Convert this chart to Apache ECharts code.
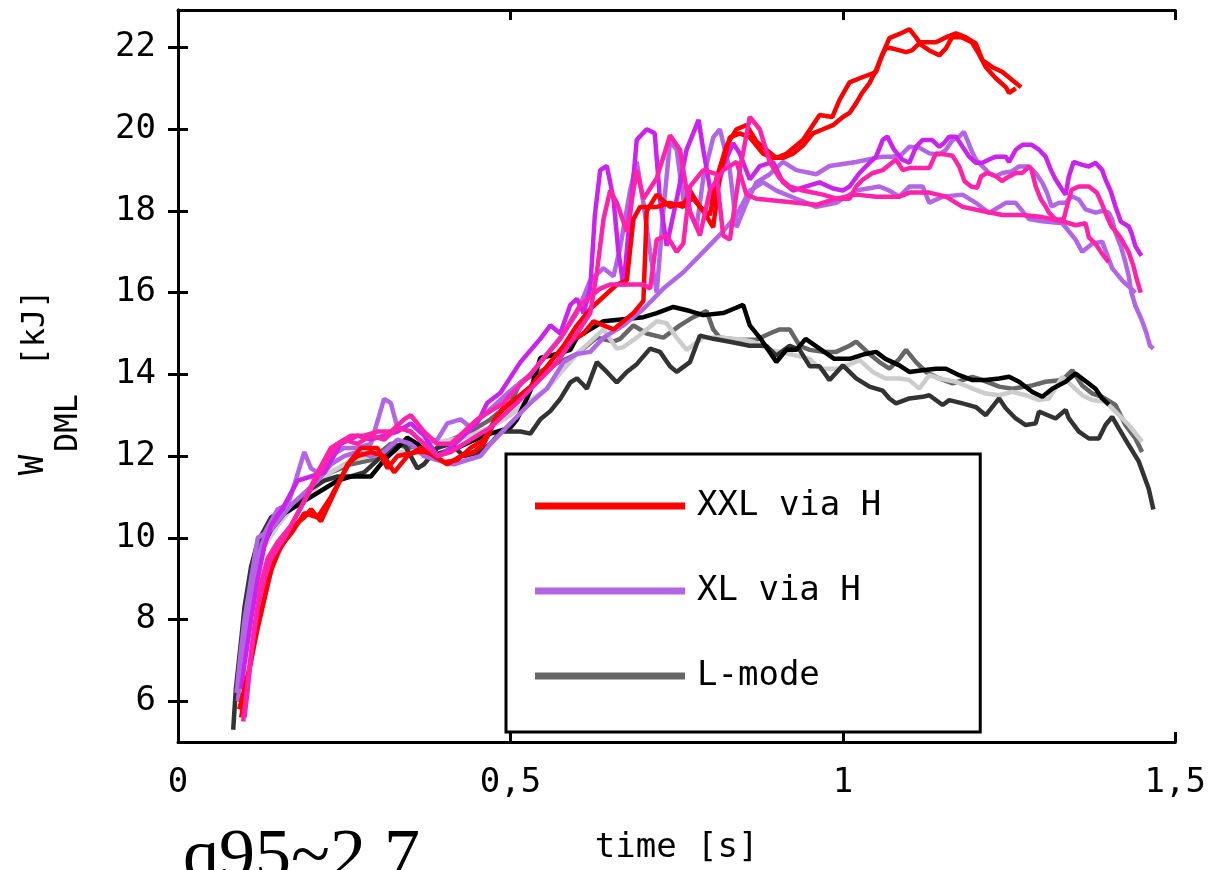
<!DOCTYPE html>
<html>
<head>
<meta charset="utf-8">
<script src="https://cdn.jsdelivr.net/npm/echarts@6/dist/echarts.min.js"></script>
<style>html,body{margin:0;padding:0;background:#fff}#c{width:1209px;height:870px}</style>
</head>
<body>
<div id="c"></div>
<script>
// ---------- data ----------
const xTickLabels = ['0', '0,5', '1', '1,5'];
const yTicks = [6, 8, 10, 12, 14, 16, 18, 20, 22];

const legendNames = ['XXL via H', 'XL via H', 'L-mode'];

// L-mode shots
const lModeMid = [[0.09,6.5],[0.1,7.8],[0.11,8.8],[0.12,9.6],[0.13,10.0],[0.15,10.4],[0.17,10.8],[0.2,11.2],[0.23,11.6],[0.26,11.8],[0.29,11.9],[0.32,12.3],[0.35,12.2],[0.38,12.1],[0.41,12.4],[0.44,12.6],[0.47,12.9],[0.5,13.3],[0.515,13.8],[0.53,13.95],[0.56,14.2],[0.6,14.5],[0.63,14.9],[0.655,14.8],[0.665,14.87],[0.685,15.2],[0.705,15.0],[0.73,14.9],[0.755,15.2],[0.775,15.4],[0.795,15.55],[0.805,15.1],[0.815,14.9],[0.84,14.85],[0.87,14.85],[0.89,15.0],[0.905,15.1],[0.92,15.1],[0.935,14.7],[0.95,14.6],[0.97,14.55],[0.99,14.55],[1.01,14.7],[1.02,14.8],[1.04,14.5],[1.055,14.3],[1.07,14.14],[1.085,14.38],[1.095,14.6],[1.11,14.3],[1.125,14.06],[1.145,13.9],[1.165,13.78],[1.195,13.94],[1.21,13.86],[1.235,13.7],[1.255,13.65],[1.285,13.73],[1.305,13.82],[1.33,13.86],[1.345,14.1],[1.36,13.73],[1.375,13.53],[1.39,13.45],[1.41,13.25],[1.425,12.76],[1.44,12.43],[1.45,12.1]];
const lModeLight = [[0.09,6.2],[0.1,7.5],[0.11,8.5],[0.12,9.3],[0.13,9.8],[0.15,10.3],[0.17,10.7],[0.2,11.1],[0.23,11.6],[0.26,11.9],[0.29,12.0],[0.32,12.1],[0.35,12.1],[0.38,12.3],[0.41,12.4],[0.44,12.5],[0.47,12.7],[0.5,13.0],[0.515,13.2],[0.555,13.65],[0.6,14.5],[0.64,15.1],[0.66,14.63],[0.67,14.67],[0.69,14.9],[0.72,15.3],[0.735,15.25],[0.75,14.9],[0.765,14.6],[0.79,14.9],[0.815,14.9],[0.85,14.85],[0.865,14.8],[0.89,14.6],[0.92,14.5],[0.95,14.38],[0.965,14.14],[0.995,14.14],[1.025,14.35],[1.045,14.06],[1.064,13.9],[1.085,13.9],[1.1,13.86],[1.115,13.65],[1.13,13.98],[1.145,13.9],[1.17,13.82],[1.195,13.65],[1.215,13.53],[1.235,13.49],[1.255,13.57],[1.275,13.49],[1.295,13.37],[1.31,13.41],[1.33,13.94],[1.36,13.49],[1.375,13.37],[1.395,13.33],[1.41,13.09],[1.43,12.76],[1.45,12.35]];
const lModeDark = [[0.083,5.3],[0.087,6.3],[0.095,7.5],[0.1,8.3],[0.11,9.3],[0.12,9.9],[0.13,10.2],[0.14,10.5],[0.16,10.7],[0.18,10.9],[0.2,11.2],[0.22,11.4],[0.24,11.5],[0.26,11.5],[0.28,11.6],[0.3,11.9],[0.32,12.2],[0.34,12.3],[0.36,11.7],[0.37,11.8],[0.39,12.2],[0.41,12.3],[0.43,12.0],[0.455,12.1],[0.47,12.3],[0.485,12.6],[0.515,12.6],[0.53,12.55],[0.545,12.9],[0.56,13.1],[0.575,13.4],[0.59,13.8],[0.6,13.9],[0.61,13.74],[0.615,13.65],[0.63,14.3],[0.645,14.06],[0.66,13.8],[0.675,14.06],[0.69,14.25],[0.71,14.63],[0.725,14.55],[0.74,14.2],[0.75,14.06],[0.77,14.3],[0.785,14.95],[0.805,14.87],[0.83,14.8],[0.86,14.7],[0.885,14.7],[0.9,14.46],[0.92,14.7],[0.935,14.6],[0.95,14.2],[0.965,14.2],[0.98,13.86],[1.0,14.22],[1.02,13.9],[1.04,13.7],[1.06,13.6],[1.07,13.41],[1.08,13.29],[1.1,13.41],[1.12,13.45],[1.13,13.49],[1.15,13.25],[1.16,13.37],[1.18,13.29],[1.2,13.2],[1.215,13.0],[1.235,13.41],[1.245,13.17],[1.26,12.92],[1.275,12.76],[1.29,12.8],[1.295,13.09],[1.32,12.92],[1.335,13.13],[1.34,12.92],[1.355,12.6],[1.37,12.43],[1.385,12.43],[1.395,12.76],[1.405,12.96],[1.415,12.68],[1.43,12.27],[1.445,11.87],[1.46,11.2],[1.467,10.69]];
const lModeBlack = [[0.09,6.0],[0.1,7.6],[0.11,8.6],[0.12,9.4],[0.13,9.9],[0.14,10.2],[0.16,10.6],[0.18,10.8],[0.2,11.0],[0.22,11.2],[0.24,11.4],[0.26,11.5],[0.29,11.5],[0.31,11.9],[0.33,12.2],[0.345,12.45],[0.36,12.3],[0.38,12.0],[0.4,12.1],[0.42,12.2],[0.44,12.35],[0.46,12.5],[0.48,12.6],[0.5,12.7],[0.51,12.9],[0.53,13.6],[0.545,14.4],[0.57,14.5],[0.59,14.6],[0.6,14.9],[0.62,15.1],[0.64,15.3],[0.7,15.4],[0.72,15.5],[0.745,15.65],[0.77,15.55],[0.79,15.45],[0.82,15.5],[0.835,15.6],[0.85,15.7],[0.86,15.2],[0.875,14.9],[0.9,14.3],[0.915,14.6],[0.93,14.6],[0.944,14.87],[0.965,14.63],[0.987,14.38],[1.01,14.38],[1.034,14.5],[1.05,14.55],[1.064,14.38],[1.085,14.22],[1.1,14.06],[1.12,14.1],[1.14,14.14],[1.155,14.14],[1.175,13.98],[1.195,13.86],[1.215,13.86],[1.235,13.9],[1.25,13.94],[1.265,13.82],[1.285,13.57],[1.3,13.45],[1.315,13.65],[1.335,13.82],[1.35,14.02],[1.36,13.9],[1.38,13.65],[1.39,13.41],[1.4,13.26]];

// XL via H shots
const xlLavenderB = [[0.09,6.0],[0.1,7.5],[0.11,8.6],[0.12,9.5],[0.13,10.0],[0.15,10.4],[0.17,10.8],[0.19,11.1],[0.21,11.4],[0.23,11.8],[0.25,12.0],[0.27,12.1],[0.29,12.0],[0.31,12.1],[0.33,12.4],[0.35,12.3],[0.37,12.0],[0.39,11.9],[0.415,11.8],[0.435,11.9],[0.455,12.0],[0.47,12.3],[0.5,12.8],[0.53,13.3],[0.555,13.65],[0.58,14.3],[0.6,14.5],[0.62,14.55],[0.64,14.9],[0.67,15.2],[0.7,15.6],[0.73,16.1],[0.76,16.5],[0.79,17.0],[0.82,17.5],[0.84,17.9],[0.86,18.5],[0.88,18.7],[0.9,18.5],[0.93,18.3],[0.96,18.1],[0.99,18.2],[1.02,18.5],[1.055,18.6],[1.07,18.5],[1.085,18.35],[1.1,18.6],[1.12,18.6],[1.13,18.2],[1.15,18.35],[1.18,18.4],[1.2,18.2],[1.22,17.95],[1.245,18.2],[1.26,18.2],[1.28,17.8],[1.3,17.75],[1.33,17.7],[1.35,17.3],[1.36,17.0],[1.375,17.2],[1.39,17.25],[1.405,16.6],[1.42,16.3],[1.44,16.0]];
const xlLavenderA = [[0.088,6.2],[0.093,7.0],[0.1,8.0],[0.11,9.0],[0.12,10.0],[0.13,10.1],[0.15,10.7],[0.165,10.8],[0.175,11.3],[0.19,12.1],[0.2,11.7],[0.21,11.6],[0.23,12.0],[0.25,12.2],[0.27,12.2],[0.29,12.3],[0.31,13.4],[0.32,13.3],[0.33,12.7],[0.35,12.6],[0.37,12.3],[0.39,12.4],[0.405,12.8],[0.425,12.9],[0.44,12.7],[0.46,13.0],[0.48,13.3],[0.5,13.6],[0.53,14.0],[0.55,14.4],[0.58,15.0],[0.6,15.5],[0.62,16.3],[0.64,16.6],[0.655,16.4],[0.665,17.1],[0.68,18.5],[0.69,19.2],[0.7,18.2],[0.71,17.0],[0.72,16.0],[0.73,18.0],[0.74,19.7],[0.75,19.5],[0.76,18.3],[0.78,17.6],[0.79,18.8],[0.805,19.8],[0.815,20.0],[0.83,19.0],[0.84,17.6],[0.855,18.2],[0.87,18.7],[0.89,18.9],[0.91,19.2],[0.93,19.0],[0.96,18.9],[0.98,19.1],[1.0,19.15],[1.02,19.2],[1.05,19.3],[1.06,19.33],[1.075,19.33],[1.088,19.38],[1.1,19.57],[1.115,19.55],[1.13,19.41],[1.145,19.38],[1.155,19.5],[1.165,19.74],[1.175,19.82],[1.182,19.94],[1.187,19.74],[1.193,19.5],[1.2,19.26],[1.21,19.09],[1.22,18.93],[1.23,18.85],[1.24,18.93],[1.254,18.97],[1.265,19.09],[1.28,19.09],[1.29,18.93],[1.3,18.69],[1.307,18.45],[1.314,18.11],[1.325,18.2],[1.335,18.2],[1.344,18.36],[1.355,18.28],[1.365,18.04],[1.38,17.96],[1.39,18.0],[1.4,17.96],[1.405,17.79],[1.41,17.47],[1.418,17.14],[1.425,16.74],[1.43,16.41],[1.434,16.0],[1.44,15.68],[1.449,15.35],[1.456,15.04],[1.462,14.7],[1.467,14.63]];
const xlPurple = [[0.095,6.3],[0.1,6.9],[0.11,8.0],[0.12,9.0],[0.13,9.8],[0.14,10.3],[0.16,10.8],[0.18,11.4],[0.2,11.5],[0.22,11.6],[0.245,12.3],[0.27,12.5],[0.29,12.4],[0.31,12.5],[0.33,12.6],[0.35,12.8],[0.37,12.5],[0.39,12.0],[0.41,12.2],[0.43,12.5],[0.45,12.8],[0.465,13.3],[0.485,13.55],[0.515,14.3],[0.545,14.87],[0.56,15.2],[0.575,15.0],[0.59,15.7],[0.6,15.85],[0.61,15.5],[0.62,16.1],[0.627,17.9],[0.635,19.0],[0.645,19.1],[0.655,18.3],[0.662,17.06],[0.67,16.15],[0.68,17.9],[0.69,19.74],[0.705,20.0],[0.717,19.9],[0.725,18.28],[0.735,17.15],[0.75,18.28],[0.765,19.5],[0.783,20.23],[0.79,19.5],[0.805,18.1],[0.82,19.1],[0.835,19.66],[0.845,19.4],[0.86,18.77],[0.875,19.1],[0.895,19.2],[0.91,18.7],[0.925,18.5],[0.945,18.6],[0.965,18.7],[0.985,18.55],[1.0,18.5],[1.01,18.6],[1.025,18.93],[1.04,19.18],[1.05,19.33],[1.06,19.74],[1.067,19.82],[1.077,19.5],[1.089,19.26],[1.1,19.18],[1.11,19.57],[1.12,19.74],[1.134,19.74],[1.145,19.57],[1.152,19.66],[1.16,19.82],[1.17,19.82],[1.18,19.57],[1.19,19.33],[1.2,19.18],[1.21,19.18],[1.22,19.26],[1.23,19.33],[1.245,19.33],[1.25,19.2],[1.26,19.5],[1.27,19.62],[1.284,19.62],[1.295,19.5],[1.305,19.33],[1.313,19.0],[1.32,18.77],[1.33,18.52],[1.335,18.4],[1.34,18.85],[1.347,19.2],[1.36,19.13],[1.37,19.09],[1.38,19.18],[1.39,19.0],[1.395,18.77],[1.403,18.48],[1.41,18.11],[1.418,17.74],[1.43,17.62],[1.434,17.47],[1.44,17.14],[1.449,16.9]];
const xlPinkA = [[0.1,5.6],[0.105,6.3],[0.11,7.2],[0.12,8.3],[0.13,9.0],[0.14,9.5],[0.16,10.0],[0.18,10.6],[0.2,11.2],[0.22,11.8],[0.24,12.3],[0.26,12.5],[0.28,12.5],[0.3,12.6],[0.32,12.6],[0.34,12.9],[0.35,13.0],[0.37,12.6],[0.39,12.3],[0.41,12.3],[0.43,12.6],[0.45,12.9],[0.47,13.1],[0.49,13.3],[0.5,13.5],[0.53,14.0],[0.575,14.87],[0.605,15.7],[0.635,16.1],[0.65,16.2],[0.68,16.2],[0.7,16.2],[0.71,16.1],[0.72,17.3],[0.735,17.4],[0.75,17.0],[0.76,17.2],[0.77,18.6],[0.79,19.0],[0.81,18.9],[0.82,17.4],[0.83,17.3],[0.845,19.0],[0.86,20.3],[0.875,20.0],[0.89,19.2],[0.905,18.8],[0.92,18.6],[0.94,18.5],[0.97,18.4],[0.99,18.3],[1.01,18.3],[1.02,18.6],[1.03,18.77],[1.045,18.93],[1.06,19.0],[1.08,19.26],[1.09,19.0],[1.1,19.05],[1.13,19.05],[1.14,19.41],[1.155,19.38],[1.165,19.35],[1.175,19.09],[1.183,18.73],[1.193,18.6],[1.202,18.57],[1.208,18.85],[1.217,18.93],[1.23,18.85],[1.24,18.73],[1.245,18.8],[1.26,18.93],[1.27,18.93],[1.28,19.09],[1.284,19.0],[1.29,18.6],[1.298,18.28],[1.305,18.11],[1.31,17.96],[1.32,17.79],[1.332,17.79],[1.337,18.11],[1.344,18.52],[1.355,18.6],[1.37,18.6],[1.382,18.45],[1.389,18.2],[1.397,17.87],[1.404,17.62],[1.412,17.47],[1.419,17.31],[1.43,16.99],[1.437,16.65],[1.442,16.33],[1.448,16.0]];
const xlPinkB = [[0.098,5.5],[0.105,6.5],[0.115,7.8],[0.125,8.9],[0.135,9.5],[0.15,9.9],[0.17,10.3],[0.19,10.9],[0.21,11.6],[0.23,12.2],[0.25,12.4],[0.27,12.3],[0.29,12.5],[0.31,12.4],[0.33,12.7],[0.35,12.6],[0.37,12.3],[0.39,12.0],[0.41,12.1],[0.43,12.3],[0.45,12.5],[0.47,12.7],[0.49,13.0],[0.51,13.3],[0.54,13.8],[0.57,14.3],[0.6,15.0],[0.62,15.5],[0.63,16.5],[0.64,17.8],[0.65,18.5],[0.66,18.2],[0.675,17.5],[0.69,19.0],[0.7,18.3],[0.72,18.8],[0.74,19.85],[0.755,19.5],[0.77,18.0],[0.785,17.4],[0.8,18.5],[0.82,19.0],[0.84,19.2],[0.855,18.4],[0.87,18.3],[0.9,18.25],[0.93,18.2],[0.96,18.15],[0.99,18.3],[1.02,18.4],[1.05,18.35],[1.085,18.35],[1.1,18.45],[1.13,18.45],[1.155,18.35],[1.18,18.1],[1.21,18.0],[1.24,17.9],[1.27,17.9],[1.3,17.85],[1.33,17.75],[1.35,17.65],[1.365,17.7],[1.37,17.35],[1.38,17.2],[1.39,16.95],[1.4,16.74]];

// XXL via H shots
const xxlA = [[0.092,5.8],[0.1,6.3],[0.11,7.0],[0.12,7.8],[0.13,8.5],[0.14,9.2],[0.155,9.8],[0.17,10.1],[0.19,10.6],[0.21,10.5],[0.23,11.0],[0.26,11.9],[0.275,12.2],[0.3,12.2],[0.315,11.7],[0.33,12.0],[0.36,12.1],[0.38,12.1],[0.4,11.85],[0.42,11.9],[0.44,12.2],[0.46,12.4],[0.48,13.0],[0.5,13.3],[0.53,13.7],[0.56,14.3],[0.58,14.7],[0.6,15.2],[0.62,15.6],[0.64,15.9],[0.66,16.2],[0.675,16.3],[0.685,17.8],[0.695,18.1],[0.72,18.1],[0.74,18.2],[0.76,18.1],[0.77,18.5],[0.785,18.1],[0.8,17.9],[0.81,18.8],[0.825,19.6],[0.84,20.0],[0.855,20.1],[0.87,19.7],[0.885,19.5],[0.9,19.3],[0.915,19.4],[0.94,19.74],[0.965,20.35],[0.984,20.3],[0.995,20.72],[1.01,21.15],[1.03,21.28],[1.05,21.4],[1.06,21.86],[1.07,22.23],[1.09,22.37],[1.1,22.45],[1.11,22.25],[1.115,22.13],[1.14,22.13],[1.155,22.25],[1.17,22.35],[1.185,22.25],[1.2,22.1],[1.21,21.69],[1.225,21.52],[1.24,21.4],[1.255,21.2],[1.268,21.03]];
const xxlB = [[0.095,5.6],[0.105,6.5],[0.115,7.5],[0.125,8.2],[0.135,8.9],[0.145,9.5],[0.16,9.9],[0.175,10.3],[0.19,10.5],[0.2,10.7],[0.215,10.4],[0.235,11.1],[0.255,11.8],[0.27,12.0],[0.29,12.1],[0.31,12.0],[0.325,11.6],[0.345,12.0],[0.365,12.2],[0.385,12.0],[0.405,11.8],[0.425,12.0],[0.445,12.1],[0.46,12.3],[0.475,12.8],[0.49,13.2],[0.52,13.5],[0.55,14.0],[0.57,14.3],[0.59,14.8],[0.61,15.0],[0.625,15.3],[0.64,15.2],[0.655,15.1],[0.67,15.3],[0.685,15.5],[0.7,15.8],[0.705,18.0],[0.72,18.4],[0.74,18.1],[0.76,18.2],[0.775,18.3],[0.79,18.0],[0.805,17.6],[0.815,18.9],[0.83,19.8],[0.845,19.9],[0.86,19.8],[0.88,19.4],[0.895,19.3],[0.91,19.3],[0.925,19.4],[0.94,19.6],[0.955,19.9],[0.97,20.0],[0.985,20.1],[1.0,20.3],[1.01,20.4],[1.02,20.64],[1.029,20.89],[1.04,21.13],[1.05,21.45],[1.0575,21.76],[1.065,22.0],[1.074,21.98],[1.095,21.89],[1.104,21.93],[1.1145,22.1],[1.13,21.93],[1.145,21.81],[1.155,21.98],[1.164,22.25],[1.179,22.25],[1.194,22.13],[1.204,21.86],[1.215,21.52],[1.23,21.25],[1.245,21.03],[1.25,20.89],[1.26,21.0]];

// ---------- styling ----------
const MONO = '"DejaVu Sans Mono", monospace';
const curves = [
  { name: 'L-mode',    data: lModeMid,    color: '#666666' },
  { name: 'L-mode',    data: lModeLight,  color: '#cccccc' },
  { name: 'L-mode',    data: lModeDark,   color: '#333333' },
  { name: 'L-mode',    data: lModeBlack,  color: '#000000' },
  { name: 'XL via H',  data: xlLavenderB, color: '#b266e6' },
  { name: 'XL via H',  data: xlLavenderA, color: '#b266e6' },
  { name: 'XL via H',  data: xlPurple,    color: '#cc22ee' },
  { name: 'XXL via H', data: xxlA,        color: '#ff0000' },
  { name: 'XXL via H', data: xxlB,        color: '#ff0000' },
  { name: 'XL via H',  data: xlPinkA,     color: '#ff22aa' },
  { name: 'XL via H',  data: xlPinkB,     color: '#ff22aa' }
];

const axisLine = { show: true, lineStyle: { color: '#000', width: 3 } };
const tickStyle = { color: '#000', width: 3 };

const chart = echarts.init(document.getElementById('c'), null, { renderer: 'canvas' });
chart.setOption({
  animation: false,
  backgroundColor: '#fff',
  grid: { left: 178, right: 31, top: 10, bottom: 125, containLabel: false },
  legend: {
    data: legendNames,
    orient: 'vertical',
    left: 506, top: 454,
    icon: 'rect',
    itemWidth: 150, itemHeight: 7,
    itemGap: 45,
    padding: [32, 99, 36, 29],
    borderColor: '#000', borderWidth: 3,
    backgroundColor: '#fff',
    selectedMode: false,
    textStyle: { fontFamily: MONO, fontSize: 34, color: '#000', lineHeight: 40, padding: [0, 0, 0, 7] }
  },
  xAxis: [
    {
      type: 'value', min: 0, max: 1.5, interval: 0.5, position: 'bottom',
      axisLine: axisLine,
      axisTick: { inside: true, length: 10, lineStyle: tickStyle },
      axisLabel: { margin: 24, fontFamily: MONO, fontSize: 34, color: '#000',
        formatter: v => xTickLabels[Math.round(v / 0.5)] },
      splitLine: { show: false },
      name: 'time [s]', nameLocation: 'middle', nameGap: 89,
      nameTextStyle: { fontFamily: MONO, fontSize: 34, color: '#000' }
    },
    {
      type: 'value', min: 0, max: 1.5, interval: 0.5, position: 'top',
      axisLine: axisLine,
      axisTick: { inside: true, length: 10, lineStyle: tickStyle },
      axisLabel: { show: false }, splitLine: { show: false }
    }
  ],
  yAxis: [
    {
      type: 'value', min: 5, max: 22.92, position: 'left',
      axisLine: axisLine,
      axisTick: { inside: true, length: 10, lineStyle: tickStyle, customValues: yTicks },
      axisLabel: { margin: 22, fontFamily: MONO, fontSize: 34, color: '#000', customValues: yTicks },
      splitLine: { show: false }
    },
    {
      type: 'value', min: 5, max: 22.92, position: 'right',
      axisLine: axisLine,
      axisTick: { inside: true, length: 10, lineStyle: tickStyle, customValues: yTicks },
      axisLabel: { show: false }, splitLine: { show: false }
    }
  ],
  series: curves.map(c => ({
    type: 'line', name: c.name, data: c.data,
    xAxisIndex: 0, yAxisIndex: 0,
    showSymbol: false, symbol: 'none', smooth: false,
    color: c.color,
    lineStyle: { color: c.color, width: 4.5 },
    itemStyle: { color: c.color },
    emphasis: { disabled: true }
  })),
  graphic: [
    { type: 'text', x: 34, y: 465, rotation: Math.PI / 2,
      style: { text: 'W', fontFamily: MONO, fontSize: 34, fill: '#000', align: 'center', verticalAlign: 'middle' } },
    { type: 'text', x: 69, y: 423, rotation: Math.PI / 2,
      style: { text: 'DML', fontFamily: MONO, fontSize: 32, fill: '#000', align: 'center', verticalAlign: 'middle' } },
    { type: 'text', x: 36, y: 328, rotation: Math.PI / 2,
      style: { text: '[kJ]', fontFamily: MONO, fontSize: 32, fill: '#000', align: 'center', verticalAlign: 'middle' } },
    { type: 'text', x: 183, y: 859,
      style: { text: 'q95~2.7', fontFamily: '"Liberation Serif", "Times New Roman", serif', fontSize: 72, fill: '#000', align: 'left', verticalAlign: 'middle' } }
  ]
});
</script>
</body>
</html>
